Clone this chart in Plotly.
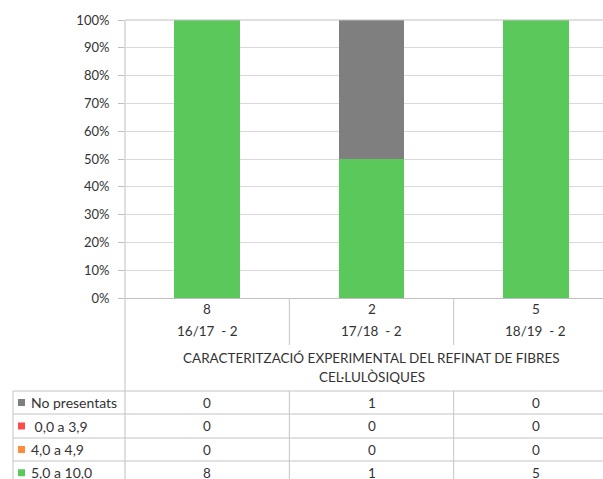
import plotly.graph_objects as go

# ---- data ----
categories = ["16/17  - 2", "17/18  - 2", "18/19  - 2"]
totals = [8, 2, 5]
series_names = ["No presentats", " 0,0 a 3,9", "4,0 a 4,9", "5,0 a 10,0"]
no_presentats = [0, 1, 0]
suspes = [0, 0, 0]
aprovat_baix = [0, 0, 0]
aprovat = [8, 1, 5]
series_values = [no_presentats, suspes, aprovat_baix, aprovat]
series_colors = ["#7f7f7f", "#ff4b4b", "#ff8c3a", "#5bc85b"]
axis_title = ["CARACTERITZACIÓ EXPERIMENTAL DEL REFINAT DE FIBRES", "CEL·LULÒSIQUES"]
y_ticks = [0, 0.1, 0.2, 0.3, 0.4, 0.5, 0.6, 0.7, 0.8, 0.9, 1.0]

FONT = "Lato"
TXT = "#333333"
GRID = "#d9d9d9"
LINE = "#c4c4c4"

# ---- layout geometry (pixels) ----
FW, FH = 603, 479
L, R, T, B = 125, 603, 20, 298
W, H = R - L, B - T
x0, x1 = -0.5, 2.5 - 15 / 164.0


def xp(px):
    return (px - L) / W


def yp(py):
    return (B - py) / H


idx = list(range(len(categories)))

fig = go.Figure()
# stacking order bottom -> top: green, orange, red, gray
for name, vals, col in reversed(list(zip(series_names, series_values, series_colors))):
    fig.add_trace(go.Bar(x=idx, y=vals, name=name, marker=dict(color=col, line=dict(width=0)),
                         width=0.4, showlegend=False))

shapes = []
annotations = []


def hline(py, xa, xb, color=LINE):
    shapes.append(dict(type="line", xref="paper", yref="paper", x0=xp(xa), x1=xp(xb),
                       y0=yp(py), y1=yp(py), line=dict(color=color, width=1)))


def vline(px, ya, yb, color=LINE):
    shapes.append(dict(type="line", xref="paper", yref="paper", x0=xp(px), x1=xp(px),
                       y0=yp(ya), y1=yp(yb), line=dict(color=color, width=1)))


def text(x, y, s, xref="paper", size=13, xanchor="center"):
    annotations.append(dict(x=x, y=y, xref=xref, yref="paper", text=s, showarrow=False,
                            xanchor=xanchor, yanchor="middle",
                            font=dict(family=FONT, size=size, color=TXT)))


# top border line of plot
hline(T, L, R, "#c0c0c0")
# category separators
seps = [L + (i + 0.5 - x0) / (x1 - x0) * W for i in idx[:-1]]
for sx in seps:
    vline(sx, B, 345)
    vline(sx, 391, FH + 5)
# left axis line down through table
vline(L, T, FH + 5, "#bfbfbf")
# table
rows_y = [391, 414, 438, 461]
for ry in rows_y:
    hline(ry, 13, R)
vline(13, 391, FH + 5)

# category number row and label row
for i in idx:
    text(i, yp(309), str(totals[i]), xref="x", size=13.5)
    text(i, yp(331), categories[i], xref="x", size=13.5)
# axis title (two lines)
for k, line in enumerate(axis_title):
    text(xp((L + R + 15) / 2), yp(358 + 19 * k), line, size=13.5)

# data table rows
for r, (name, vals, col) in enumerate(zip(series_names, series_values, series_colors)):
    cy = (rows_y[r] + (rows_y[r + 1] if r + 1 < len(rows_y) else rows_y[r] + 23.5)) / 2
    shapes.append(dict(type="rect", xref="paper", yref="paper", x0=xp(18), x1=xp(25),
                       y0=yp(cy + 3.5), y1=yp(cy - 3.5), fillcolor=col, line=dict(width=0)))
    label = name.replace(" ", "&nbsp;", 1) if name.startswith(" ") else name
    text(xp(29), yp(cy), label, size=14, xanchor="left")
    for i in idx:
        text(i, yp(cy), str(vals[i]), xref="x", size=13.5)

fig.update_layout(
    width=FW, height=FH,
    margin=dict(l=L, r=FW - R, t=T, b=FH - B, pad=0),
    paper_bgcolor="white", plot_bgcolor="white",
    barmode="stack", barnorm="fraction", bargap=0.6,
    xaxis=dict(range=[x0, x1], showticklabels=False, ticks="", showgrid=False,
               zeroline=False, showline=True, linecolor="#bfbfbf", linewidth=1, fixedrange=True),
    yaxis=dict(range=[0, 1], tickvals=y_ticks, tickformat=".0%", showgrid=True, gridcolor=GRID,
               gridwidth=1, zeroline=False, showline=False, ticks="outside", ticklen=6,
               tickcolor="#bfbfbf", ticklabelstandoff=6,
               tickfont=dict(family=FONT, size=13, color=TXT), fixedrange=True),
    shapes=shapes, annotations=annotations,
    showlegend=False,
)

fig.write_html("out.html", config={"displayModeBar": False},
               post_script="document.body.style.margin='0';document.body.style.padding='0';")
